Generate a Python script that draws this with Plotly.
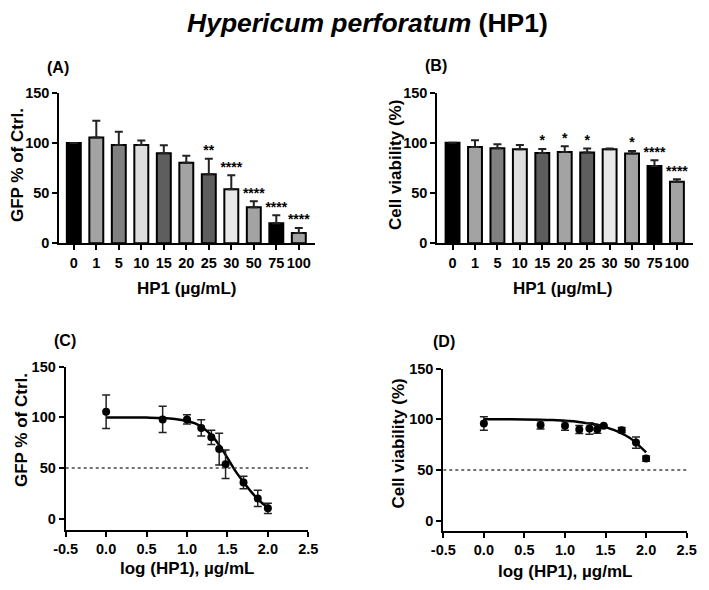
import plotly.graph_objects as go

# Page body has an 8px default margin, so the figure is drawn 8px in.
OFF = 8
W, H = 709 - OFF, 590 - OFF

# ---------------- data ----------------
conc_labels = ["0", "1", "5", "10", "15", "20", "25", "30", "50", "75", "100"]
bar_colors = ["#000000", "#a3a3a3", "#808080", "#dedede", "#5e5e5e", "#a3a3a3",
              "#5e5e5e", "#e8e8e8", "#a3a3a3", "#000000", "#a3a3a3"]

gfp_mean = [100, 105.5, 98, 98, 89.6, 80.3, 68.7, 53.8, 35.8, 20, 10.3]
gfp_err = [0, 16.5, 13, 4.5, 8, 7, 15.6, 14, 6.2, 8, 5]
gfp_stars = ["", "", "", "", "", "", "**", "****", "****", "****", "****"]

via_mean = [100, 95.9, 94.5, 93.6, 89.9, 90.9, 90.2, 93.6, 89.3, 77, 61.2]
via_err = [0, 6.6, 4, 4.3, 4, 5.6, 4, 0.6, 2.6, 5.6, 2.6]
via_stars = ["", "", "", "", "*", "*", "*", "", "*", "****", "****"]

log_conc = [0, 0.699, 1.0, 1.176, 1.301, 1.398, 1.477, 1.699, 1.875, 2.0]

fit_x = [0, 0.25, 0.5, 0.7, 0.85, 1.0, 1.1, 1.2, 1.3, 1.4, 1.5, 1.6, 1.7, 1.8, 1.9, 2.0]
gfp_fit_y = [100, 100, 99.8, 99.4, 98.5, 96.5, 94, 89.5, 82.5, 72.5, 60, 47, 36, 26, 17.5, 11]
via_fit_y = [100, 100, 99.9, 99.7, 99.3, 98.7, 98, 97, 96, 94.6, 92.3, 89.5, 86, 81.5, 75, 67.3]

half_line = 50
log_ticks = [-0.5, 0, 0.5, 1.0, 1.5, 2.0, 2.5]
log_tick_text = ["-0.5", "0.0", "0.5", "1.0", "1.5", "2.0", "2.5"]
y_ticks = [0, 50, 100, 150]

FONT = "Liberation Sans, Arial, sans-serif"
TICKF = dict(family=FONT, size=14.5, color="black", weight="bold")

fig = go.Figure()

def bar_panel(xa, ya, means, errs, stars):
    fig.add_trace(go.Bar(
        x=conc_labels, y=means, width=0.62,
        marker=dict(color=bar_colors, line=dict(color="black", width=2)),
        error_y=dict(type="data", symmetric=False, array=errs,
                     arrayminus=[0] * len(errs), color="#222222",
                     thickness=2, width=4),
        xaxis=xa, yaxis=ya, showlegend=False))
    fig.add_trace(go.Scatter(
        x=conc_labels, y=[m + e for m, e in zip(means, errs)],
        mode="text", text=stars, textposition="top center",
        textfont=dict(family=FONT, size=14, color="black", weight="bold"),
        xaxis=xa, yaxis=ya, showlegend=False, cliponaxis=False))

def curve_panel(xa, ya, means, errs, fit_y):
    fig.add_trace(go.Scatter(
        x=fit_x, y=fit_y, mode="lines", line=dict(color="black", width=2.5,
                                                  shape="spline"),
        xaxis=xa, yaxis=ya, showlegend=False))
    fig.add_trace(go.Scatter(
        x=log_conc, y=means[1:], mode="markers",
        marker=dict(color="black", size=8),
        error_y=dict(type="data", array=errs[1:], color="#222222",
                     thickness=1.5, width=4),
        xaxis=xa, yaxis=ya, showlegend=False))
    fig.add_trace(go.Scatter(
        x=[log_ticks[0], log_ticks[-1]], y=[half_line, half_line],
        mode="lines", line=dict(color="#444444", width=1.5, dash="dot"),
        xaxis=xa, yaxis=ya, showlegend=False))

bar_panel("x", "y", gfp_mean, gfp_err, gfp_stars)
bar_panel("x2", "y2", via_mean, via_err, via_stars)
curve_panel("x3", "y3", gfp_mean, gfp_err, gfp_fit_y)
curve_panel("x4", "y4", via_mean, via_err, via_fit_y)

def px_x(a, b):
    return [(a - OFF) / W, (b - OFF) / W]

def px_y(top, bottom):
    return [1 - (bottom - OFF) / H, 1 - (top - OFF) / H]

common_axis = dict(showline=True, linecolor="black", linewidth=2,
                   ticks="outside", ticklen=5, tickwidth=1.5, tickcolor="black",
                   showgrid=False, zeroline=False, tickfont=TICKF)

fig.update_layout(
    xaxis=dict(domain=px_x(59.3, 315), anchor="y", type="category",
               range=[-0.645, 10.72], **common_axis),
    yaxis=dict(domain=px_y(92.7, 243.3), anchor="x", range=[0, 150],
               tickvals=y_ticks, **common_axis),
    xaxis2=dict(domain=px_x(437.3, 693.3), anchor="y2", type="category",
                range=[-0.68, 10.73], **common_axis),
    yaxis2=dict(domain=px_y(92.5, 243.3), anchor="x2", range=[0, 150],
                tickvals=y_ticks, **common_axis),
    xaxis3=dict(domain=px_x(65.7, 308.3), anchor="y3", range=[-0.5, 2.5],
                tickvals=log_ticks, ticktext=log_tick_text, **common_axis),
    yaxis3=dict(domain=px_y(366.7, 530), anchor="x3", range=[-11.1, 150],
                tickvals=y_ticks, **common_axis),
    xaxis4=dict(domain=px_x(443.3, 686.7), anchor="y4", range=[-0.5, 2.5],
                tickvals=log_ticks, ticktext=log_tick_text, **common_axis),
    yaxis4=dict(domain=px_y(368.7, 530.7), anchor="x4", range=[-10, 150],
                tickvals=y_ticks, **common_axis),
    width=W, height=H,
    margin=dict(l=0, r=0, t=0, b=0, autoexpand=False),
    paper_bgcolor="white", plot_bgcolor="white",
)

def ann(text, x, y, size, angle=0):
    fig.add_annotation(text=text, x=(x - OFF) / W, y=1 - (y - OFF) / H,
                       xref="paper", yref="paper", showarrow=False,
                       textangle=angle, xanchor="center", yanchor="middle",
                       font=dict(family=FONT, size=size, color="black",
                                 weight="bold"))

ann("<i>Hypericum perforatum</i> (HP1)", 367, 23, 26.5)
ann("(A)", 58, 67.5, 16)
ann("(B)", 436, 66, 16)
ann("(C)", 65, 340, 16)
ann("(D)", 444, 341.5, 16)
ann("GFP % of Ctrl.", 18, 165, 17, -90)
ann("Cell viability (%)", 396, 165, 17, -90)
ann("GFP % of Ctrl.", 21, 430, 17, -90)
ann("Cell viability (%)", 398.3, 443.3, 17, -90)
ann("HP1 (µg/mL)", 186.7, 288.3, 17)
ann("HP1 (µg/mL)", 563.3, 288.3, 17)
ann("log (HP1), µg/mL", 186.7, 568.3, 17)
ann("log (HP1), µg/mL", 565, 571.7, 17)

fig.write_html("out.html")
